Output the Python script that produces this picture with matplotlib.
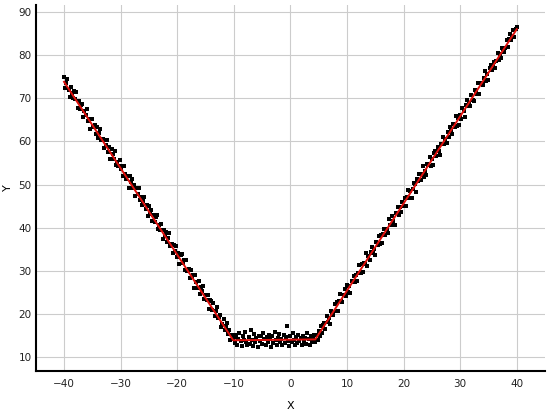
import numpy as np
from matplotlib import pyplot as plt

# 数据：x 网格 (-40 ~ 40, 步长 0.2) 与读图得到的 y 值
x_start, x_stop, x_step = -40.0, 40.0, 0.2
y_points = [
    74.8, 72.4, 73.5, 74.4, 71.9, 70.2, 72.5, 71.3, 70.1, 71.7,
    69.8, 71.5, 67.8, 69.4, 67.5, 68.4, 68.7, 65.6, 67.0, 66.0,
    67.5, 64.8, 65.2, 62.9, 65.1, 65.2, 63.3, 63.7, 61.7, 63.3,
    60.7, 62.0, 62.9, 60.2, 60.6, 58.5, 60.4, 59.1, 60.2, 57.5,
    58.6, 55.9, 58.2, 57.1, 56.0, 57.8, 54.6, 55.3, 54.2, 55.6,
    53.5, 54.3, 52.0, 54.3, 52.4, 51.2, 52.0, 49.3, 51.9, 50.6,
    51.3, 49.3, 49.8, 47.4, 49.3, 47.8, 49.2, 46.5, 47.1, 45.3,
    46.1, 47.0, 44.3, 45.3, 42.8, 45.0, 43.2, 44.0, 41.5, 43.0,
    41.3, 42.5, 42.9, 39.6, 40.7, 39.5, 40.8, 37.4, 39.4, 38.4,
    39.1, 36.6, 37.6, 38.7, 35.8, 36.2, 34.1, 35.9, 34.6, 35.7,
    33.1, 34.1, 31.5, 33.6, 33.8, 31.7, 32.5, 30.1, 32.4, 29.9,
    30.4, 28.3, 30.2, 28.6, 29.1, 26.1, 29.1, 27.5, 26.0, 27.6,
    24.6, 26.2, 25.3, 26.5, 23.5, 24.3, 23.2, 24.3, 21.2, 23.2,
    22.9, 20.9, 22.5, 19.6, 20.6, 21.6, 19.1, 19.2, 19.8, 16.9,
    17.7, 18.8, 16.2, 17.3, 17.8, 15.4, 16.3, 13.9, 15.2, 14.2,
    14.6, 13.2, 15.1, 12.8, 14.3, 15.5, 13.7, 12.5, 14.9, 13.9,
    15.8, 13.4, 12.9, 14.7, 13.1, 16.2, 14.0, 12.6, 15.3, 13.6,
    14.4, 12.3, 15.0, 13.8, 14.9, 13.0, 15.6, 14.2, 12.8, 14.7,
    13.5, 15.2, 14.1, 12.4, 14.8, 13.3, 15.9, 13.9, 12.7, 14.5,
    15.4, 13.6, 14.3, 12.9, 15.1, 13.2, 14.6, 17.2, 13.8, 12.6,
    14.8, 13.4, 15.5, 14.0, 12.8, 14.6, 13.3, 15.2, 13.7, 14.4,
    12.9, 15.0, 13.8, 14.5, 13.1, 15.7, 14.2, 12.7, 14.9, 13.6,
    14.3, 15.2, 13.4, 15.1, 13.9, 16.0, 14.8, 17.1, 15.6, 17.5,
    17.9, 16.5, 19.5, 18.1, 19.1, 17.7, 20.6, 20.2, 19.7, 22.2,
    20.8, 22.7, 20.8, 23.1, 24.7, 23.1, 22.7, 24.5, 25.7, 24.2,
    26.7, 25.1, 26.4, 24.8, 27.7, 27.4, 28.9, 27.3, 29.1, 27.6,
    29.6, 31.4, 29.4, 31.5, 29.8, 31.9, 31.5, 34.1, 31.1, 33.4,
    32.4, 34.4, 35.5, 34.1, 35.1, 33.6, 36.6, 36.0, 38.1, 36.1,
    38.3, 36.4, 38.6, 39.8, 38.4, 39.8, 38.7, 42.0, 40.7, 40.5,
    42.7, 41.6, 40.7, 43.4, 43.3, 44.9, 43.0, 44.8, 43.6, 45.9,
    45.1, 46.9, 45.1, 47.0, 48.7, 46.8, 48.6, 46.9, 49.0, 50.3,
    50.2, 48.3, 51.3, 50.7, 52.5, 51.0, 52.4, 54.2, 51.8, 53.2,
    52.3, 54.7, 54.6, 56.3, 54.3, 56.0, 54.6, 57.2, 57.8, 56.7,
    58.7, 57.8, 56.9, 59.4, 59.5, 61.1, 59.3, 60.5, 59.7, 62.2,
    61.1, 63.4, 62.6, 61.8, 64.1, 63.4, 65.8, 63.6, 65.4, 63.9,
    66.1, 65.2, 67.7, 67.1, 65.7, 68.4, 69.6, 68.1, 68.9, 68.2,
    70.8, 69.7, 69.3, 71.9, 71.7, 71.0, 73.6, 70.9, 73.6, 73.5,
    73.0, 74.7, 76.2, 74.0, 75.6, 74.3, 76.9, 77.7, 76.6, 77.7,
    78.5, 77.0, 78.6, 80.4, 78.9, 80.3, 79.3, 81.6, 81.3, 80.8,
    81.6, 83.4, 81.8, 83.7, 84.9, 83.4, 84.5, 85.9, 84.3, 86.0,
    86.4,
]
x_points = np.round(np.arange(x_start, x_stop + x_step / 2, x_step), 1)

# 分段线性拟合的折点
fit_x = [-40.0, -10.1, 4.4, 40.0]
fit_y = [73.8, 13.9, 14.1, 86.0]

x_ticks = [-40, -30, -20, -10, 0, 10, 20, 30, 40]
y_ticks = [10, 20, 30, 40, 50, 60, 70, 80, 90]

fig = plt.figure(figsize=(5.5, 4.17), dpi=100)
ax = fig.add_axes([0.065, 0.11, 0.926, 0.878])

ax.scatter(x_points, y_points, s=5, marker='s', color='black', linewidths=0, zorder=2)
ax.plot(fit_x, fit_y, color='#e0100c', lw=1.4, zorder=3)

ax.set_xlim(-45, 45)
ax.set_ylim(6.75, 91.6)
ax.set_xticks(x_ticks)
ax.set_yticks(y_ticks)
ax.grid(True, color='#cccccc', lw=0.8, zorder=0)
ax.set_axisbelow(True)

for side in ['top', 'right']:
    ax.spines[side].set_visible(False)
for side in ['left', 'bottom']:
    ax.spines[side].set_linewidth(1.5)
    ax.spines[side].set_color('black')

ax.tick_params(axis='both', length=0, labelsize=7.5, colors='#222222')
ax.tick_params(axis='x', pad=6)
ax.tick_params(axis='y', pad=3)
ax.set_xlabel('X', fontsize=8, labelpad=8)
ax.set_ylabel('Y', fontsize=8, labelpad=4)

fig.savefig('out.png', dpi=100)
